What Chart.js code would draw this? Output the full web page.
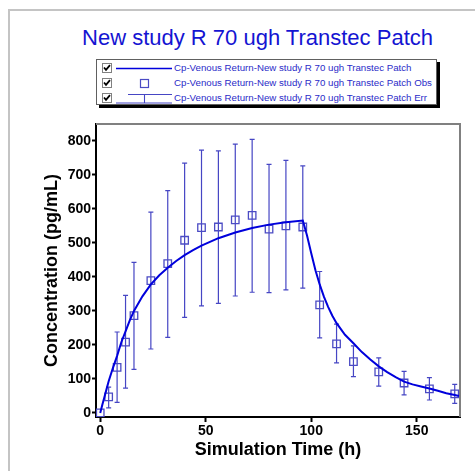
<!DOCTYPE html>
<html>
<head>
<meta charset="utf-8">
<script src="https://cdn.jsdelivr.net/npm/chart.js@4.4.1/dist/chart.umd.min.js"></script>
<style>
  body { margin: 0; background: #fff; font-family: "Liberation Sans", Arial, sans-serif; }
  #page { position: relative; width: 475px; height: 471px; overflow: hidden; }
  #frame { position: absolute; left: 8px; top: 9px; width: 500px; height: 500px;
           border-left: 2px solid #c4c4c4; border-top: 2px solid #c4c4c4; }
  #title { position: absolute; left: 40px; width: 435px; top: 25px; text-align: center;
           font-size: 22px; line-height: 26px; color: #1414d2; white-space: nowrap; }
  #legend { position: absolute; left: 96px; top: 59px; width: 339px; height: 44px;
            border: 1px solid #606060; background: #fff; box-shadow: 3px 3px 0 #000; }
  .row { position: relative; height: 15px; }
  .chk { position: absolute; left: 5px; top: 3px; width: 8px; height: 8px;
         border: 1px solid #808080; background: #fff; }
  .chk svg { position: absolute; left: 0; top: 0; }
  .sample { position: absolute; left: 19px; top: 1px; }
  .lbl { position: absolute; left: 77px; top: 0; font-size: 9.7px; line-height: 15px;
         color: #2b2bc8; white-space: nowrap; }
  canvas { position: absolute; left: 0; top: 0; }
</style>
</head>
<body>
<div id="page">
  <div id="frame"></div>
  <div id="title">New study R 70 ugh Transtec Patch</div>
  <div id="legend"></div>
  <canvas id="myChart" width="475" height="471"></canvas>
</div>
<script>
// datos
const chartTitle = 'New study R 70 ugh Transtec Patch';
const seriesNames = [
    'Cp-Venous Return-New study R 70 ugh Transtec Patch',
    'Cp-Venous Return-New study R 70 ugh Transtec Patch Obs',
    'Cp-Venous Return-New study R 70 ugh Transtec Patch Err'
];

// curva simulada
const simTime = [0, 1, 2, 3, 4, 6, 8, 10, 12, 14, 16, 20, 24, 28, 32, 36, 40, 44, 48, 56, 64, 72, 80, 88, 96,
                 98, 100, 102, 104, 106, 108, 110, 112, 116, 120, 124, 128, 132, 136, 140, 144, 148, 152, 156, 160, 164, 168, 170];
const simConc = [0, 24, 47, 70, 93, 132, 168, 208, 240, 272, 300, 343, 378, 405, 427, 447, 464, 479, 492, 514, 531, 544, 554, 561, 566,
                 522, 470, 420, 378, 342, 312, 286, 264, 230, 205, 179, 157, 137, 120, 105, 92, 84, 78, 72, 65, 58, 53, 50];

// observaciones y barras de error
const obsTime = [0, 4, 8, 12, 16, 24, 32, 40, 48, 56, 64, 72, 80, 88, 96, 104, 112, 120, 132, 144, 156, 168];
const obsConc = [0, 47, 134, 208, 286, 389, 439, 508, 545, 547, 568, 581, 541, 550, 547, 318, 203, 151, 121, 88, 71, 56];
const errLow  = [0, 15, 31, 73, 128, 188, 222, 281, 315, 322, 344, 355, 354, 362, 367, 221, 147, 107, 79, 53, 38, 28];
const errHigh = [0, 76, 238, 346, 443, 591, 654, 735, 773, 771, 791, 805, 731, 743, 727, 416, 261, 197, 162, 122, 104, 84];

// etiquetas de los ejes
const xTicks = [0, 50, 100, 150];
const yTicks = [0, 100, 200, 300, 400, 500, 600, 700, 800];

const lineColor = '#0000dc';
const obsColor = '#4b4bc4';
const errColor = '#4646c4';

document.getElementById('title').textContent = chartTitle;

// Leyenda en HTML
const checkSvg = '<svg width="8" height="8"><path d="M1 3.5 L3 5.8 L7 1.2" stroke="#000" stroke-width="1.8" fill="none"/></svg>';
const samples = [
    '<svg width="56" height="13"><line x1="0" y1="6.5" x2="56" y2="6.5" stroke="' + lineColor + '" stroke-width="1.6"/></svg>',
    '<svg width="56" height="13"><rect x="24.5" y="2.5" width="8" height="8" stroke="' + obsColor + '" stroke-width="1.2" fill="none"/></svg>',
    '<svg width="56" height="13"><line x1="12" y1="2.5" x2="56" y2="2.5" stroke="' + errColor + '" stroke-width="1.1"/>' +
      '<line x1="0" y1="11" x2="56" y2="11" stroke="' + errColor + '" stroke-width="1.1"/>' +
      '<line x1="28.5" y1="2.5" x2="28.5" y2="11" stroke="' + errColor + '" stroke-width="1.1"/></svg>'
];
const legend = document.getElementById('legend');
seriesNames.forEach((name, i) => {
    const row = document.createElement('div');
    row.className = 'row';
    row.innerHTML = '<span class="chk">' + checkSvg + '</span><span class="sample">' + samples[i] +
                    '</span><span class="lbl"></span>';
    row.querySelector('.lbl').textContent = name;
    legend.appendChild(row);
});

// Barras de error dibujadas con las escalas del grafico
const errorBars = {
    id: 'errorBars',
    beforeDatasetsDraw(chart) {
        const ctx = chart.ctx;
        const x = chart.scales.x;
        const y = chart.scales.y;
        ctx.save();
        ctx.strokeStyle = errColor;
        ctx.lineWidth = 1.2;
        obsTime.forEach((t, i) => {
            if (errHigh[i] === errLow[i]) return;
            const px = x.getPixelForValue(t);
            const top = y.getPixelForValue(errHigh[i]);
            const bot = y.getPixelForValue(errLow[i]);
            ctx.beginPath();
            ctx.moveTo(px, top); ctx.lineTo(px, bot);
            ctx.moveTo(px - 2.5, top); ctx.lineTo(px + 2.5, top);
            ctx.moveTo(px - 2.5, bot); ctx.lineTo(px + 2.5, bot);
            ctx.stroke();
        });
        ctx.restore();
    }
};

// Marco gris arriba y a la derecha del area
const plotFrame = {
    id: 'plotFrame',
    beforeDatasetsDraw(chart) {
        const {ctx, chartArea: a} = chart;
        ctx.save();
        ctx.strokeStyle = '#808080';
        ctx.lineWidth = 2;
        ctx.beginPath();
        ctx.moveTo(a.left, a.top);
        ctx.lineTo(a.right, a.top);
        ctx.lineTo(a.right, a.bottom);
        ctx.stroke();
        ctx.restore();
    }
};

const tickFont = { family: '"Liberation Sans", Arial, sans-serif', size: 14, weight: 'bold' };
const titleFont = { family: '"Liberation Sans", Arial, sans-serif', size: 18, weight: 'bold' };

var ctx = document.getElementById('myChart').getContext('2d');
var myChart = new Chart(ctx, {
    type: 'scatter',
    data: {
        datasets: [{
            label: seriesNames[0],
            data: simTime.map((t, i) => ({ x: t, y: simConc[i] })),
            showLine: true,
            borderColor: lineColor,
            borderWidth: 2,
            pointRadius: 0,
            tension: 0
        }, {
            label: seriesNames[1],
            data: obsTime.map((t, i) => ({ x: t, y: obsConc[i] })),
            pointStyle: 'rect',
            pointRadius: 5.3,
            borderColor: obsColor,
            backgroundColor: 'rgba(0,0,0,0)',
            borderWidth: 1.3
        }]
    },
    options: {
        responsive: false,
        animation: false,
        layout: { padding: { top: 124, right: 15, left: 0, bottom: 0 } },
        plugins: {
            legend: { display: false },
            tooltip: { enabled: false }
        },
        scales: {
            x: {
                type: 'linear',
                min: -2,
                max: 170.5,
                afterBuildTicks: (s) => { s.ticks = xTicks.map(v => ({ value: v })); },
                afterFit: (s) => { s.height = 54; },
                grid: { drawOnChartArea: false, drawTicks: true, tickLength: 5, tickColor: '#000', tickWidth: 2 },
                border: { color: '#000', width: 2 },
                ticks: { color: '#000', font: tickFont, padding: 1, maxRotation: 0 },
                title: { display: true, text: 'Simulation Time (h)', color: '#000', font: titleFont,
                         padding: { top: 0, bottom: 10 } }
            },
            y: {
                type: 'linear',
                min: -12,
                max: 850,
                afterBuildTicks: (s) => { s.ticks = yTicks.map(v => ({ value: v })); },
                afterFit: (s) => { s.width = 96; },
                grid: { drawOnChartArea: false, drawTicks: true, tickLength: 4, tickColor: '#000', tickWidth: 2 },
                border: { color: '#000', width: 2 },
                ticks: { color: '#000', font: tickFont, padding: 1 },
                title: { display: true, text: 'Concentration (pg/mL)', color: '#000', font: titleFont,
                         padding: { top: 41, bottom: 0 } }
            }
        }
    },
    plugins: [errorBars, plotFrame]
});
</script>
</body>
</html>
